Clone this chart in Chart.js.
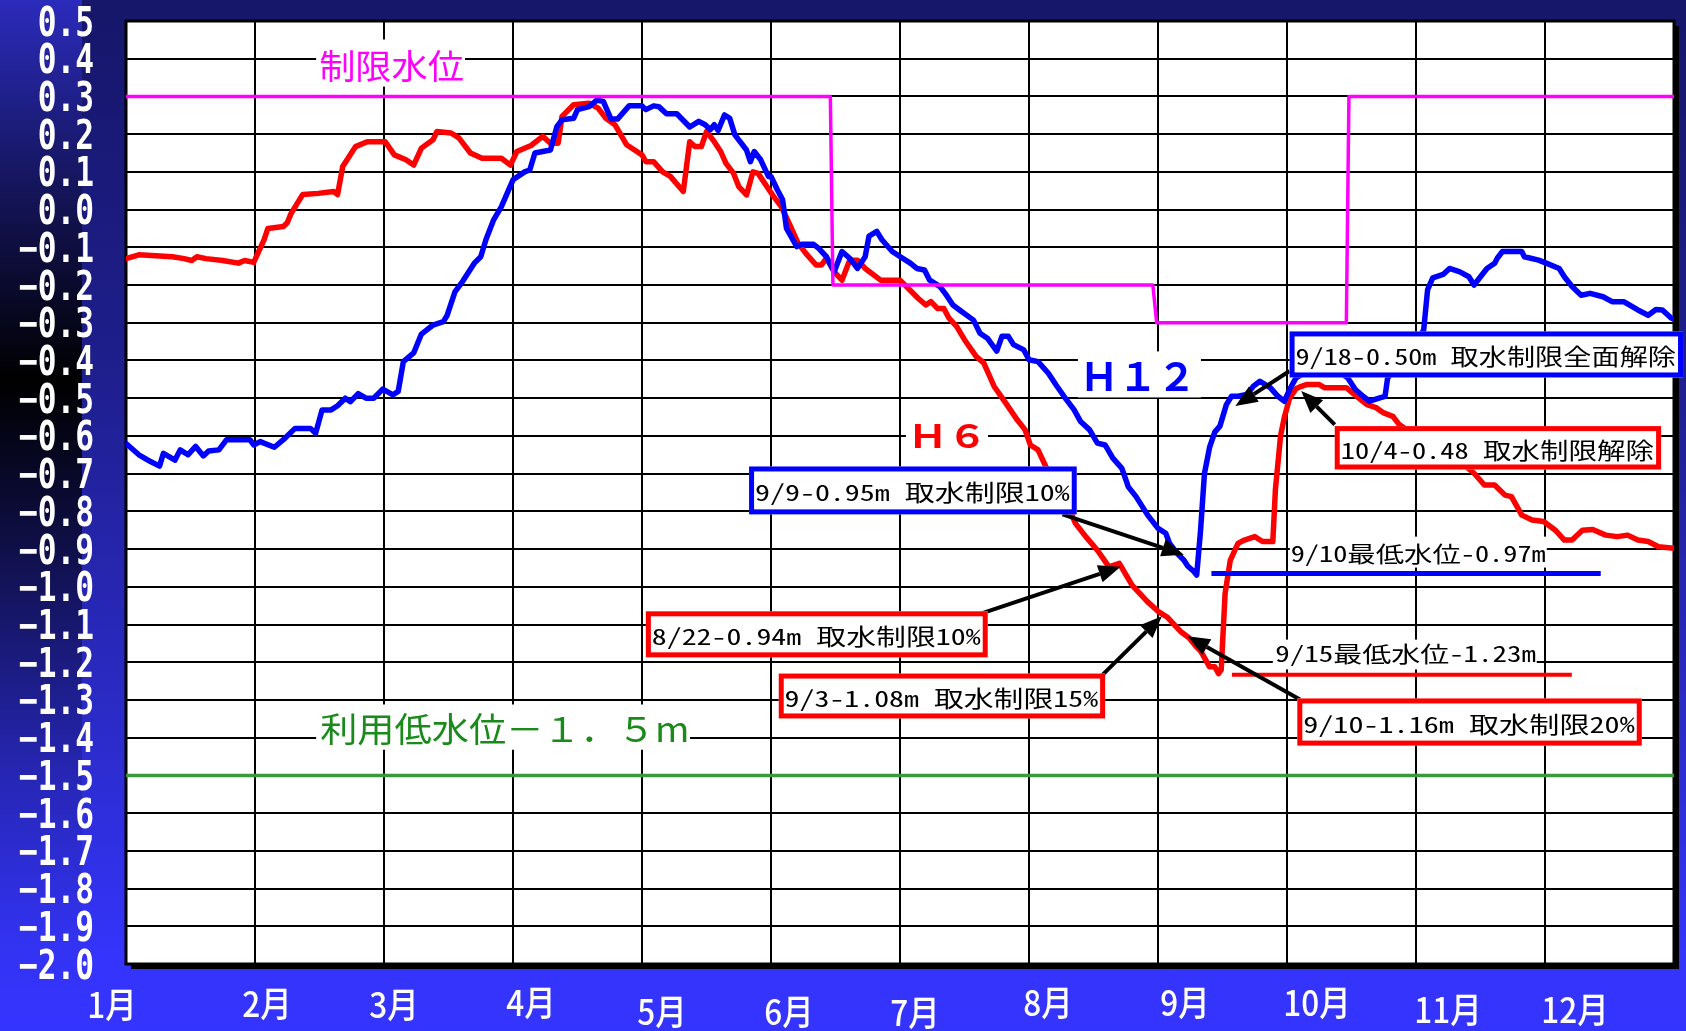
<!DOCTYPE html>
<html lang="ja">
<head>
<meta charset="utf-8">
<title>貯水位 H6 / H12</title>
<script src="https://cdn.jsdelivr.net/npm/chart.js@4.4.1/dist/chart.umd.min.js"></script>
<style>
  html, body { margin: 0; padding: 0; background: #3434ff; }
  #wrap { width: 1686px; height: 1031px; position: relative; }
</style>
</head>
<body>
<div id="wrap"><canvas id="level-chart"></canvas></div>
<script>
/** DATA */
// x = position in the year in months (0 = 1月 start, 12 = end of 12月), y = water level (m)
const monthLabels = ['1月', '2月', '3月', '4月', '5月', '6月', '7月', '8月', '9月', '10月', '11月', '12月'];

const h6Series = [
  [0.00, -0.13], [0.10, -0.12], [0.36, -0.125], [0.45, -0.13], [0.51, -0.135], [0.55, -0.125], [0.62, -0.13],
  [0.75, -0.135], [0.87, -0.142], [0.92, -0.135], [0.99, -0.14], [1.07, -0.08], [1.10, -0.05], [1.22, -0.045],
  [1.25, -0.035], [1.28, -0.01], [1.37, 0.04], [1.49, 0.043], [1.61, 0.048], [1.64, 0.04], [1.68, 0.114],
  [1.78, 0.167], [1.87, 0.18], [2.01, 0.18], [2.08, 0.145], [2.17, 0.132], [2.23, 0.118], [2.29, 0.163],
  [2.38, 0.185], [2.41, 0.207], [2.52, 0.203], [2.58, 0.19], [2.67, 0.15], [2.76, 0.136], [2.91, 0.136],
  [2.98, 0.118], [3.03, 0.154], [3.14, 0.17], [3.23, 0.194], [3.29, 0.176], [3.35, 0.176], [3.38, 0.247],
  [3.47, 0.278], [3.59, 0.282], [3.66, 0.269], [3.72, 0.242], [3.79, 0.225], [3.88, 0.172], [3.96, 0.154],
  [4.00, 0.145], [4.03, 0.127], [4.09, 0.127], [4.16, 0.10], [4.22, 0.088], [4.32, 0.048], [4.37, 0.18],
  [4.41, 0.167], [4.46, 0.167], [4.50, 0.207], [4.55, 0.185], [4.61, 0.154], [4.65, 0.123], [4.71, 0.096],
  [4.75, 0.061], [4.81, 0.039], [4.86, 0.10], [4.90, 0.096], [4.96, 0.065], [5.02, 0.035], [5.08, 0.008],
  [5.14, -0.036], [5.21, -0.089], [5.27, -0.116], [5.35, -0.147], [5.39, -0.147], [5.43, -0.129], [5.49, -0.165],
  [5.55, -0.187], [5.61, -0.134], [5.67, -0.134], [5.73, -0.156], [5.85, -0.187], [6.00, -0.187], [6.05, -0.204],
  [6.14, -0.235], [6.20, -0.253], [6.24, -0.244], [6.29, -0.262], [6.34, -0.262], [6.38, -0.288], [6.44, -0.31],
  [6.50, -0.345], [6.59, -0.389], [6.65, -0.407], [6.73, -0.469], [6.82, -0.513], [6.91, -0.558], [6.97, -0.584],
  [7.01, -0.624], [7.07, -0.637], [7.13, -0.681], [7.24, -0.735], [7.36, -0.832], [7.44, -0.867], [7.53, -0.903],
  [7.62, -0.947], [7.70, -0.938], [7.80, -0.996], [7.92, -1.04], [8.00, -1.065], [8.07, -1.08], [8.18, -1.12],
  [8.24, -1.135], [8.30, -1.16], [8.33, -1.17], [8.40, -1.212], [8.44, -1.212], [8.47, -1.23], [8.49, -1.22],
  [8.52, -1.018], [8.56, -0.93], [8.62, -0.885], [8.67, -0.876], [8.75, -0.867], [8.81, -0.88], [8.89, -0.88],
  [8.91, -0.743], [8.95, -0.60], [8.98, -0.55], [9.02, -0.50], [9.07, -0.475], [9.10, -0.47], [9.15, -0.464],
  [9.25, -0.464], [9.29, -0.472], [9.46, -0.472], [9.54, -0.495], [9.62, -0.517], [9.69, -0.525], [9.75, -0.539],
  [9.82, -0.548], [9.87, -0.57], [10.00, -0.60], [10.20, -0.64], [10.35, -0.67], [10.45, -0.699], [10.53, -0.73],
  [10.61, -0.73], [10.69, -0.757], [10.74, -0.761], [10.82, -0.81], [10.90, -0.823], [10.99, -0.827], [11.08, -0.85],
  [11.15, -0.876], [11.21, -0.876], [11.29, -0.85], [11.37, -0.848], [11.47, -0.863], [11.56, -0.867], [11.64, -0.863],
  [11.72, -0.876], [11.80, -0.88], [11.88, -0.894], [12.00, -0.898],
];

const h12Series = [
  [0.00, -0.62], [0.10, -0.65], [0.19, -0.668], [0.26, -0.68], [0.29, -0.646], [0.38, -0.664], [0.42, -0.637],
  [0.48, -0.65], [0.54, -0.628], [0.60, -0.653], [0.64, -0.64], [0.72, -0.637], [0.78, -0.61], [0.96, -0.61],
  [0.99, -0.624], [1.04, -0.615], [1.15, -0.63], [1.22, -0.61], [1.31, -0.58], [1.43, -0.58], [1.47, -0.593],
  [1.52, -0.531], [1.59, -0.531], [1.64, -0.52], [1.70, -0.50], [1.74, -0.509], [1.80, -0.488], [1.86, -0.50],
  [1.92, -0.50], [1.99, -0.476], [2.07, -0.491], [2.11, -0.482], [2.15, -0.403], [2.23, -0.38], [2.29, -0.33],
  [2.38, -0.306], [2.46, -0.297], [2.49, -0.28], [2.55, -0.218], [2.61, -0.19], [2.70, -0.142], [2.75, -0.125],
  [2.79, -0.08], [2.85, -0.027], [2.91, 0.008], [3.00, 0.079], [3.09, 0.10], [3.13, 0.105], [3.17, 0.15],
  [3.29, 0.158], [3.34, 0.22], [3.38, 0.238], [3.47, 0.242], [3.50, 0.265], [3.59, 0.273], [3.65, 0.29],
  [3.70, 0.287], [3.76, 0.24], [3.81, 0.24], [3.90, 0.275], [4.00, 0.275], [4.03, 0.265], [4.09, 0.275],
  [4.13, 0.273], [4.19, 0.254], [4.27, 0.254], [4.37, 0.219], [4.44, 0.234], [4.49, 0.225], [4.53, 0.212],
  [4.56, 0.225], [4.59, 0.21], [4.64, 0.251], [4.68, 0.242], [4.72, 0.198], [4.81, 0.158], [4.84, 0.127],
  [4.87, 0.154], [4.92, 0.132], [4.98, 0.088], [5.00, 0.088], [5.05, 0.052], [5.09, 0.026], [5.12, -0.05],
  [5.20, -0.098], [5.24, -0.092], [5.33, -0.092], [5.37, -0.103], [5.43, -0.125], [5.49, -0.165], [5.55, -0.111],
  [5.61, -0.129], [5.67, -0.156], [5.73, -0.125], [5.76, -0.07], [5.82, -0.058], [5.86, -0.08], [5.94, -0.111],
  [6.02, -0.129], [6.08, -0.142], [6.13, -0.156], [6.19, -0.16], [6.23, -0.187], [6.31, -0.204], [6.36, -0.227],
  [6.41, -0.253], [6.48, -0.271], [6.57, -0.293], [6.62, -0.328], [6.68, -0.342], [6.75, -0.375], [6.79, -0.336],
  [6.84, -0.336], [6.88, -0.358], [6.96, -0.372], [7.00, -0.398], [7.07, -0.403], [7.15, -0.434], [7.21, -0.465],
  [7.29, -0.504], [7.35, -0.531], [7.40, -0.562], [7.47, -0.584], [7.53, -0.619], [7.59, -0.624], [7.65, -0.659],
  [7.72, -0.686], [7.77, -0.735], [7.83, -0.761], [7.92, -0.81], [8.00, -0.845], [8.06, -0.858], [8.09, -0.885],
  [8.15, -0.912], [8.20, -0.929], [8.23, -0.945], [8.28, -0.96], [8.30, -0.969], [8.33, -0.85], [8.36, -0.70],
  [8.40, -0.63], [8.44, -0.59], [8.48, -0.574], [8.53, -0.517], [8.57, -0.495], [8.62, -0.495], [8.69, -0.49],
  [8.74, -0.468], [8.79, -0.455], [8.87, -0.472], [8.93, -0.495], [8.98, -0.508], [9.02, -0.477], [9.07, -0.446],
  [9.15, -0.43], [9.30, -0.41], [9.40, -0.43], [9.47, -0.446], [9.53, -0.477], [9.59, -0.495], [9.64, -0.508],
  [9.72, -0.499], [9.76, -0.495], [9.78, -0.446], [9.90, -0.40], [10.00, -0.36], [10.06, -0.318], [10.09, -0.212],
  [10.13, -0.181], [10.21, -0.172], [10.26, -0.156], [10.34, -0.165], [10.41, -0.178], [10.45, -0.20], [10.50, -0.178],
  [10.55, -0.156], [10.61, -0.142], [10.63, -0.129], [10.67, -0.111], [10.82, -0.111], [10.84, -0.125], [10.95, -0.134],
  [11.01, -0.142], [11.11, -0.156], [11.15, -0.178], [11.21, -0.204], [11.28, -0.227], [11.35, -0.222], [11.45, -0.231],
  [11.52, -0.244], [11.61, -0.244], [11.72, -0.266], [11.80, -0.28], [11.86, -0.265], [11.91, -0.266], [11.98, -0.288],
  [12.00, -0.29],
];

// 制限水位 (restriction level), steps down for summer and back up in October
const limitSeries = [[0, 0.3], [5.46, 0.3], [5.48, -0.2], [7.96, -0.2], [7.99, -0.3], [9.46, -0.3], [9.48, 0.3], [12, 0.3]];
// 利用低水位 -1.5m
const usableLowSeries = [[0, -1.5], [12, -1.5]];

const toPoints = (pairs) => pairs.map(([x, y]) => ({ x, y }));

/** ANNOTATIONS (placed in chart units: month, level) */
const tags = [
  { text: '制限水位', color: '#ff00ff', font: '36px "Noto Sans CJK JP"', ink: [1.505, 2.613, 0.424, 0.336], bg: [1.474, 2.628, 0.451, 0.326] },
  { text: '利用低水位－１．５m', color: '#1a8a1a', font: '36px "Noto Sans CJK JP"', ink: [1.505, 4.349, -1.334, -1.4226], bg: [1.474, 4.372, -1.312, -1.432] },
  { text: 'Ｈ１２', color: '#0000ff', font: 'bold 38px "Noto Sans CJK JP"', ink: [7.441, 8.232, -0.405, -0.482], bg: [7.379, 8.333, -0.376, -0.498] },
  { text: 'Ｈ６', color: '#ff0000', font: 'bold 38px "Noto Sans CJK JP"', ink: [6.108, 6.612, -0.570, -0.633], bg: [6.046, 6.682, -0.551, -0.652] },
];

const minMarks = [
  { text: '9/10最低水位-0.97m', color: '#0000ff', width: 5, line: [8.414, 11.432, -0.965], ink: [9.037, 11.006, -0.883, -0.946], bg: [9.022, 11.014, -0.867, -0.949] },
  { text: '9/15最低水位-1.23m', color: '#ff0000', width: 4, line: [8.573, 11.208, -1.233], ink: [8.917, 10.931, -1.149, -1.211], bg: [8.890, 10.936, -1.140, -1.219] },
];

const callouts = [
  { text: '9/9-0.95m 取水制限10%', color: '#0000ff', box: [4.83, 7.37, -0.681, -0.808], tail: [7.26, -0.808], tip: [8.2, -0.915] },
  { text: '8/22-0.94m 取水制限10%', color: '#ff0000', box: [4.03, 6.68, -1.065, -1.187], tail: [6.61, -1.073], tip: [7.71, -0.947] },
  { text: '9/3-1.08m 取水制限15%', color: '#ff0000', box: [5.06, 7.59, -1.230, -1.349], tail: [7.56, -1.237], tip: [8.03, -1.078] },
  { text: '9/10-1.16m 取水制限20%', color: '#ff0000', box: [9.08, 11.75, -1.296, -1.421], tail: [9.10, -1.299], tip: [8.23, -1.131] },
  { text: '9/18-0.50m 取水制限全面解除', color: '#0000ff', box: [9.02, 12.07, -0.323, -0.445], tail: [9.02, -0.428], tip: [8.60, -0.521] },
  { text: '10/4-0.48 取水制限解除', color: '#ff0000', box: [9.37, 11.90, -0.574, -0.689], tail: [9.37, -0.57], tip: [9.11, -0.481] },
];

// month label nudges: [px right of gridline, px below plot bottom] (labels are staggered in the original)
const monthLabelNudge = [[-14, 41], [12, 40], [10, 41], [18, 39], [20, 48], [18, 48], [15, 49], [19, 39], [27, 39], [30, 39], [32, 46], [30, 46]];

const BOX_FONT = '26px "Noto Sans Mono CJK JP", "Noto Sans CJK JP"';

// draw text so that its ink fills the given pixel rectangle
function fitInk(ctx, text, font, color, x1, x2, y1, y2) {
  ctx.save();
  ctx.font = font;
  const m = ctx.measureText(text);
  const w = m.actualBoundingBoxLeft + m.actualBoundingBoxRight;
  const h = m.actualBoundingBoxAscent + m.actualBoundingBoxDescent;
  ctx.translate(x1, y1);
  ctx.scale((x2 - x1) / w, (y2 - y1) / h);
  ctx.fillStyle = color;
  ctx.textAlign = 'left';
  ctx.textBaseline = 'alphabetic';
  ctx.fillText(text, m.actualBoundingBoxLeft, m.actualBoundingBoxAscent);
  ctx.restore();
}

function drawArrow(ctx, x1, y1, x2, y2) {
  const ang = Math.atan2(y2 - y1, x2 - x1);
  const len = 22;
  const half = 9;
  const bx = x2 - len * Math.cos(ang);
  const by = y2 - len * Math.sin(ang);
  ctx.save();
  ctx.strokeStyle = '#000';
  ctx.fillStyle = '#000';
  ctx.lineWidth = 4;
  ctx.beginPath();
  ctx.moveTo(x1, y1);
  ctx.lineTo(bx, by);
  ctx.stroke();
  ctx.beginPath();
  ctx.moveTo(x2, y2);
  ctx.lineTo(bx + half * Math.sin(ang), by - half * Math.cos(ang));
  ctx.lineTo(bx - half * Math.sin(ang), by + half * Math.cos(ang));
  ctx.closePath();
  ctx.fill();
  ctx.restore();
}

/** PLUGINS */
const backdropPlugin = {
  id: 'backdrop',
  beforeDraw(chart) {
    const { ctx, width, height, chartArea: a } = chart;
    ctx.save();
    const main = ctx.createLinearGradient(0, 0, 0, height);
    main.addColorStop(0, '#16166a');
    main.addColorStop(0.35, '#1e1e8c');
    main.addColorStop(0.7, '#2b2bc8');
    main.addColorStop(0.93, '#3434fc');
    main.addColorStop(1, '#3434ff');
    ctx.fillStyle = main;
    ctx.fillRect(0, 0, width, height);

    const side = ctx.createLinearGradient(0, 0, 0, height);
    side.addColorStop(0, '#2b2bbc');
    side.addColorStop(0.18, '#15155c');
    side.addColorStop(0.37, '#000000');
    side.addColorStop(0.5, '#0c0c3a');
    side.addColorStop(0.75, '#2626b4');
    side.addColorStop(0.92, '#3333f4');
    side.addColorStop(1, '#3434ff');
    ctx.fillStyle = side;
    ctx.fillRect(0, 0, 82, height);

    // drop shadow and white plot area
    ctx.fillStyle = '#000';
    ctx.fillRect(a.left + 5, a.top + 5, a.width, a.height);
    ctx.fillStyle = '#fff';
    ctx.fillRect(a.left, a.top, a.width, a.height);
    ctx.restore();
  },
  beforeDatasetsDraw(chart) {
    const { ctx, chartArea: a } = chart;
    ctx.save();
    ctx.strokeStyle = '#000';
    ctx.lineWidth = 3;
    ctx.strokeRect(a.left, a.top, a.width, a.height);
    ctx.restore();
  },
};

const overlayPlugin = {
  id: 'overlay',
  afterDatasetsDraw(chart) {
    const { ctx } = chart;
    const xs = chart.scales.x;
    const ys = chart.scales.y;
    const px = (v) => xs.getPixelForValue(v);
    const py = (v) => ys.getPixelForValue(v);

    ctx.save();
    // free labels with a white backing
    tags.forEach((t) => {
      ctx.fillStyle = '#fff';
      ctx.fillRect(px(t.bg[0]), py(t.bg[2]), px(t.bg[1]) - px(t.bg[0]), py(t.bg[3]) - py(t.bg[2]));
      fitInk(ctx, t.text, t.font, t.color, px(t.ink[0]), px(t.ink[1]), py(t.ink[2]), py(t.ink[3]));
    });

    // lowest level markers
    minMarks.forEach((mk) => {
      ctx.strokeStyle = mk.color;
      ctx.lineWidth = mk.width;
      ctx.beginPath();
      ctx.moveTo(px(mk.line[0]), py(mk.line[2]));
      ctx.lineTo(px(mk.line[1]), py(mk.line[2]));
      ctx.stroke();
      ctx.fillStyle = '#fff';
      ctx.fillRect(px(mk.bg[0]), py(mk.bg[2]), px(mk.bg[1]) - px(mk.bg[0]), py(mk.bg[3]) - py(mk.bg[2]));
      fitInk(ctx, mk.text, BOX_FONT, '#000', px(mk.ink[0]), px(mk.ink[1]), py(mk.ink[2]), py(mk.ink[3]));
    });

    // arrows, then the boxed callouts on top of the arrow tails
    callouts.forEach((c) => {
      drawArrow(ctx, px(c.tail[0]), py(c.tail[1]), px(c.tip[0]), py(c.tip[1]));
    });
    callouts.forEach((c) => {
      const x1 = px(c.box[0]);
      const x2 = px(c.box[1]);
      const y1 = py(c.box[2]);
      const y2 = py(c.box[3]);
      const lw = 5;
      ctx.fillStyle = '#fff';
      ctx.fillRect(x1, y1, x2 - x1, y2 - y1);
      ctx.strokeStyle = c.color;
      ctx.lineWidth = lw;
      ctx.strokeRect(x1 + lw / 2, y1 + lw / 2, x2 - x1 - lw, y2 - y1 - lw);
      const cy = (y1 + y2) / 2 + 3;
      fitInk(ctx, c.text, BOX_FONT, '#000', x1 + 7, x2 - 7, cy - 12, cy + 12);
    });
    ctx.restore();
  },
  afterDraw(chart) {
    const { ctx, chartArea: a } = chart;
    const xs = chart.scales.x;
    const ys = chart.scales.y;
    ctx.save();
    ctx.fillStyle = '#fff';

    // y axis labels (narrow monospace look)
    ctx.font = 'bold 40px "DejaVu Sans Mono"';
    ctx.textAlign = 'right';
    ctx.textBaseline = 'alphabetic';
    ys.ticks.forEach((tick) => {
      const r = Math.round(tick.value * 10) / 10;
      const label = (r < 0 ? '−' : '') + Math.abs(r).toFixed(1);
      const y = ys.getPixelForValue(tick.value);
      ctx.save();
      ctx.translate(94, y + 14.5);
      ctx.scale(0.78, 1);
      ctx.fillText(label, 0, 0);
      ctx.restore();
    });

    // month labels
    ctx.font = '500 35px "Noto Sans CJK JP"';
    ctx.textAlign = 'center';
    monthLabels.forEach((label, i) => {
      const m = ctx.measureText(label);
      const x = xs.getPixelForValue(i) + monthLabelNudge[i][0];
      const y = a.bottom + monthLabelNudge[i][1] + (m.actualBoundingBoxAscent - m.actualBoundingBoxDescent) / 2;
      ctx.save();
      ctx.translate(x, y);
      ctx.scale(0.9, 1);
      ctx.fillText(label, 0, 0);
      ctx.restore();
    });
    ctx.restore();
  },
};

/** CHART */
const levelCtx = document.getElementById('level-chart').getContext('2d');

const lineSet = (label, pairs, color, width) => ({
  label,
  data: toPoints(pairs),
  borderColor: color,
  borderWidth: width,
  pointRadius: 0,
  fill: false,
  tension: 0,
  borderJoinStyle: 'round',
  borderCapStyle: 'round',
});

const levelChart = new Chart(levelCtx, {
  type: 'line',
  data: {
    datasets: [
      // first dataset is drawn on top
      lineSet('制限水位', limitSeries, '#ff00ff', 3.5),
      lineSet('H12', h12Series, '#0000ff', 5.5),
      lineSet('H6', h6Series, '#ff0000', 5.5),
      lineSet('利用低水位', usableLowSeries, '#3a9a3a', 3.5),
    ],
  },
  options: {
    responsive: true,
    maintainAspectRatio: false,
    devicePixelRatio: 1,
    animation: false,
    layout: {
      padding: { left: 126, top: 21, right: 12, bottom: 67 },
    },
    plugins: {
      legend: { display: false },
      tooltip: { enabled: false },
    },
    scales: {
      x: {
        type: 'linear',
        min: 0,
        max: 12,
        ticks: { stepSize: 1, display: false },
        grid: { color: '#000', lineWidth: 2, drawTicks: false },
        border: { display: false },
        afterFit: (scale) => { scale.height = 0; },
      },
      y: {
        type: 'linear',
        min: -2,
        max: 0.5,
        ticks: { stepSize: 0.1, display: false },
        grid: { color: '#000', lineWidth: 2, drawTicks: false },
        border: { display: false },
        afterFit: (scale) => { scale.width = 0; },
      },
    },
  },
  plugins: [backdropPlugin, overlayPlugin],
});
</script>
</body>
</html>
